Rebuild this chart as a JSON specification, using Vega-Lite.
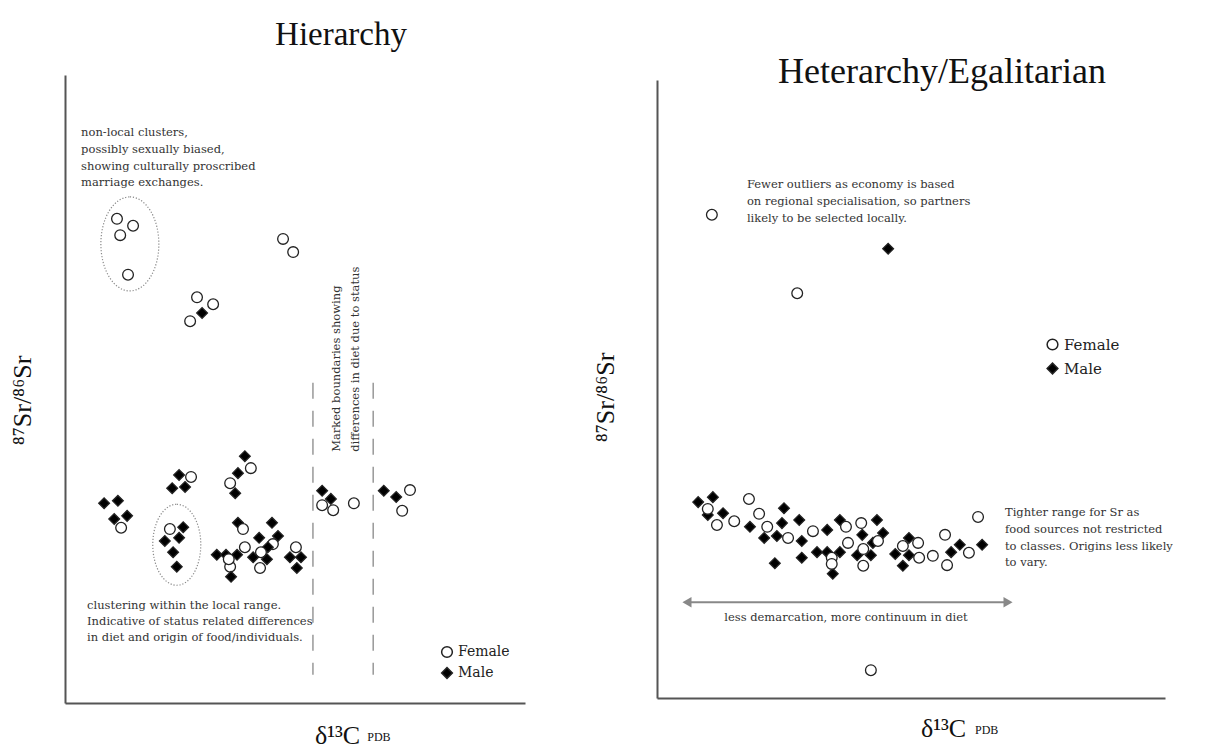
{
  "$schema": "https://vega.github.io/schema/vega-lite/v6.json",
  "autosize": {"type": "pad"},
  "padding": {"left": 9, "top": 19, "right": 0, "bottom": 0},
  "background": "white",
  "bounds": "flush",
  "center": true,
  "spacing": 132,
  "config": {
    "view": {"stroke": null},
    "axis": {"ticks": false, "labels": false, "grid": false, "domainColor": "#555", "domainWidth": 2, "titleFont": "Liberation Serif", "titleFontWeight": "normal", "titleColor": "#111"},
    "text": {"font": "DejaVu Serif", "fontSize": 11.5, "color": "#333"}
  },
  "datasets": {
    "h_pts": [
      {"x": 11.3, "y": 77.1, "sex": "Female"}, {"x": 14.8, "y": 76.0, "sex": "Female"}, {"x": 12.0, "y": 74.5, "sex": "Female"}, {"x": 13.7, "y": 68.2, "sex": "Female"},
      {"x": 47.4, "y": 73.9, "sex": "Female"}, {"x": 49.6, "y": 71.8, "sex": "Female"},
      {"x": 28.7, "y": 64.6, "sex": "Female"}, {"x": 32.2, "y": 63.5, "sex": "Female"}, {"x": 27.2, "y": 60.8, "sex": "Female"}, {"x": 29.8, "y": 62.1, "sex": "Male"},
      {"x": 8.5, "y": 31.8, "sex": "Male"}, {"x": 11.5, "y": 32.2, "sex": "Male"}, {"x": 10.7, "y": 29.3, "sex": "Male"}, {"x": 13.5, "y": 29.8, "sex": "Male"}, {"x": 12.2, "y": 27.9, "sex": "Female"},
      {"x": 24.8, "y": 36.3, "sex": "Male"}, {"x": 27.4, "y": 36.0, "sex": "Female"}, {"x": 23.3, "y": 34.2, "sex": "Male"}, {"x": 26.1, "y": 34.4, "sex": "Male"},
      {"x": 22.8, "y": 27.7, "sex": "Female"}, {"x": 25.7, "y": 28.0, "sex": "Male"}, {"x": 21.7, "y": 25.8, "sex": "Male"}, {"x": 24.8, "y": 26.3, "sex": "Male"}, {"x": 23.5, "y": 24.0, "sex": "Male"}, {"x": 24.3, "y": 21.7, "sex": "Male"},
      {"x": 39.1, "y": 39.3, "sex": "Male"}, {"x": 40.4, "y": 37.4, "sex": "Female"}, {"x": 37.6, "y": 36.6, "sex": "Male"}, {"x": 35.9, "y": 35.0, "sex": "Female"}, {"x": 37.0, "y": 33.4, "sex": "Male"},
      {"x": 37.6, "y": 28.7, "sex": "Male"}, {"x": 38.7, "y": 27.7, "sex": "Female"}, {"x": 45.0, "y": 28.7, "sex": "Male"}, {"x": 46.3, "y": 26.6, "sex": "Male"}, {"x": 42.2, "y": 26.3, "sex": "Male"},
      {"x": 45.2, "y": 25.3, "sex": "Female"}, {"x": 39.1, "y": 24.8, "sex": "Female"}, {"x": 44.1, "y": 24.8, "sex": "Male"}, {"x": 42.6, "y": 24.0, "sex": "Female"},
      {"x": 33.0, "y": 23.6, "sex": "Male"}, {"x": 35.0, "y": 23.6, "sex": "Male"}, {"x": 37.4, "y": 23.6, "sex": "Male"}, {"x": 40.9, "y": 23.2, "sex": "Male"}, {"x": 43.9, "y": 22.9, "sex": "Male"},
      {"x": 35.9, "y": 21.7, "sex": "Female"}, {"x": 35.6, "y": 22.9, "sex": "Female"}, {"x": 42.4, "y": 21.5, "sex": "Female"}, {"x": 36.1, "y": 20.1, "sex": "Male"},
      {"x": 50.2, "y": 24.8, "sex": "Female"}, {"x": 48.9, "y": 23.2, "sex": "Male"}, {"x": 51.3, "y": 23.2, "sex": "Male"}, {"x": 50.4, "y": 21.5, "sex": "Male"},
      {"x": 55.9, "y": 33.8, "sex": "Male"}, {"x": 57.8, "y": 32.5, "sex": "Male"}, {"x": 55.9, "y": 31.5, "sex": "Female"}, {"x": 58.3, "y": 30.7, "sex": "Female"}, {"x": 62.8, "y": 31.8, "sex": "Female"},
      {"x": 69.3, "y": 33.8, "sex": "Male"}, {"x": 72.0, "y": 32.8, "sex": "Male"}, {"x": 75.0, "y": 33.9, "sex": "Female"}, {"x": 73.3, "y": 30.6, "sex": "Female"}
    ],
    "h_text": [
      {"x": 3.5, "y": 90.8, "label": "non-local clusters,"},
      {"x": 3.5, "y": 88.1, "label": "possibly sexually biased,"},
      {"x": 3.5, "y": 85.4, "label": "showing culturally proscribed"},
      {"x": 3.5, "y": 82.8, "label": "marriage exchanges."},
      {"x": 4.8, "y": 15.4, "label": "clustering within the local range."},
      {"x": 4.8, "y": 12.9, "label": "Indicative of status related differences"},
      {"x": 4.8, "y": 10.4, "label": "in diet and origin of food/individuals."}
    ],
    "h_rot": [
      {"x": 59.1, "y": 40.0, "label": "Marked boundaries showing"},
      {"x": 63.3, "y": 40.0, "label": "differences in diet due to status"}
    ],
    "h_dash": [{"x": 53.9, "y": 51.0, "y2": 4.5}, {"x": 67.0, "y": 51.0, "y2": 4.5}],
    "h_ell1": [{"x": 14.1, "y": 73.1}],
    "h_ell2": [{"x": 24.3, "y": 25.2}],
    "h_pdb": [{"x": 65.7, "y": -5.4, "label": "PDB"}],
    "e_pts": [
      {"x": 10.8, "y": 78.2, "sex": "Female"}, {"x": 27.6, "y": 65.5, "sex": "Female"}, {"x": 45.5, "y": 72.7, "sex": "Male"}, {"x": 42.1, "y": 4.5, "sex": "Female"},
      {"x": 8.1, "y": 31.7, "sex": "Male"}, {"x": 11.0, "y": 32.5, "sex": "Male"}, {"x": 10.0, "y": 29.6, "sex": "Male"}, {"x": 13.0, "y": 29.9, "sex": "Male"},
      {"x": 18.3, "y": 27.7, "sex": "Male"}, {"x": 21.1, "y": 25.9, "sex": "Male"}, {"x": 23.6, "y": 26.2, "sex": "Male"}, {"x": 25.0, "y": 30.7, "sex": "Male"},
      {"x": 24.6, "y": 28.3, "sex": "Male"}, {"x": 28.0, "y": 28.8, "sex": "Male"}, {"x": 28.5, "y": 25.4, "sex": "Male"}, {"x": 23.2, "y": 21.8, "sex": "Male"},
      {"x": 28.5, "y": 22.7, "sex": "Male"}, {"x": 33.5, "y": 27.2, "sex": "Male"}, {"x": 31.5, "y": 23.6, "sex": "Male"}, {"x": 33.5, "y": 23.6, "sex": "Male"},
      {"x": 36.0, "y": 23.6, "sex": "Male"}, {"x": 34.6, "y": 20.1, "sex": "Male"}, {"x": 36.0, "y": 28.8, "sex": "Male"}, {"x": 40.4, "y": 26.4, "sex": "Male"},
      {"x": 39.4, "y": 23.1, "sex": "Male"}, {"x": 42.1, "y": 23.1, "sex": "Male"}, {"x": 42.5, "y": 25.1, "sex": "Male"}, {"x": 43.3, "y": 28.8, "sex": "Male"},
      {"x": 44.5, "y": 26.7, "sex": "Male"}, {"x": 46.9, "y": 23.3, "sex": "Male"}, {"x": 49.6, "y": 25.9, "sex": "Male"}, {"x": 49.6, "y": 23.1, "sex": "Male"},
      {"x": 48.4, "y": 21.4, "sex": "Male"}, {"x": 57.9, "y": 23.6, "sex": "Male"}, {"x": 59.6, "y": 24.8, "sex": "Male"}, {"x": 64.0, "y": 24.8, "sex": "Male"},
      {"x": 10.0, "y": 30.6, "sex": "Female"}, {"x": 11.8, "y": 28.0, "sex": "Female"}, {"x": 15.2, "y": 28.6, "sex": "Female"}, {"x": 18.1, "y": 32.2, "sex": "Female"},
      {"x": 20.1, "y": 29.8, "sex": "Female"}, {"x": 21.7, "y": 27.7, "sex": "Female"}, {"x": 25.8, "y": 25.9, "sex": "Female"}, {"x": 30.7, "y": 27.0, "sex": "Female"},
      {"x": 37.2, "y": 27.7, "sex": "Female"}, {"x": 40.2, "y": 28.3, "sex": "Female"}, {"x": 37.6, "y": 25.1, "sex": "Female"}, {"x": 34.4, "y": 22.7, "sex": "Female"},
      {"x": 34.4, "y": 21.7, "sex": "Female"}, {"x": 40.6, "y": 24.1, "sex": "Female"}, {"x": 40.6, "y": 21.4, "sex": "Female"}, {"x": 43.5, "y": 25.4, "sex": "Female"},
      {"x": 48.4, "y": 24.6, "sex": "Female"}, {"x": 51.4, "y": 25.1, "sex": "Female"}, {"x": 51.6, "y": 22.7, "sex": "Female"}, {"x": 54.3, "y": 23.0, "sex": "Female"},
      {"x": 56.7, "y": 26.4, "sex": "Female"}, {"x": 57.1, "y": 21.5, "sex": "Female"}, {"x": 61.4, "y": 23.5, "sex": "Female"}, {"x": 63.2, "y": 29.3, "sex": "Female"}
    ],
    "e_text": [
      {"x": 17.7, "y": 83.0, "label": "Fewer outliers as economy is based"},
      {"x": 17.7, "y": 80.3, "label": "on regional specialisation, so partners"},
      {"x": 17.7, "y": 77.5, "label": "likely to be selected locally."},
      {"x": 68.5, "y": 29.9, "label": "Tighter range for Sr as"},
      {"x": 68.5, "y": 27.2, "label": "food sources not restricted"},
      {"x": 68.5, "y": 24.4, "label": "to classes. Origins less likely"},
      {"x": 68.5, "y": 21.8, "label": "to vary."}
    ],
    "e_center": [{"x": 37.2, "y": 12.9, "label": "less demarcation, more continuum in diet"}],
    "e_arrow": [{"x": 5.9, "x2": 69.1, "y": 15.5}],
    "e_headL": [{"x": 5.9, "y": 15.5}],
    "e_headR": [{"x": 69.1, "y": 15.5}],
    "e_pdb": [{"x": 62.6, "y": -5.2, "label": "PDB"}]
  },
  "resolve": {
    "scale": {"shape": "independent", "fill": "independent"},
    "legend": {"shape": "independent", "fill": "independent"}
  },
  "hconcat": [
    {
      "width": 460,
      "height": 628,
      "title": {"text": "Hierarchy", "font": "Liberation Serif", "fontSize": 33, "fontWeight": "normal", "color": "#111", "anchor": "middle", "dx": 46, "offset": -3, "baseline": "alphabetic"},
      "encoding": {
        "x": {"field": "x", "type": "quantitative", "scale": {"domain": [0, 100], "nice": false, "zero": false},
          "axis": {"title": "δ¹³C", "titleFontSize": 26, "titleX": 272, "titleY": 32, "titleAlign": "center", "titleBaseline": "middle"}},
        "y": {"field": "y", "type": "quantitative", "scale": {"domain": [0, 100], "nice": false, "zero": false},
          "axis": {"title": "⁸⁷Sr/⁸⁶Sr", "titleFontSize": 26, "titleAngle": 270, "titleX": -43, "titleY": 325, "titleAlign": "center", "titleBaseline": "middle"}}
      },
      "layer": [
        {"data": {"name": "h_ell1"}, "mark": {"type": "point", "shape": "M0,-1A0.617,1,0,1,1,0,1A0.617,1,0,1,1,0,-1Z", "size": 8836, "filled": false, "stroke": "#888", "strokeWidth": 1.2, "strokeDash": [1.2, 1.8], "opacity": 1}},
        {"data": {"name": "h_ell2"}, "mark": {"type": "point", "shape": "M0,-1A0.593,1,0,1,1,0,1A0.593,1,0,1,1,0,-1Z", "size": 6561, "filled": false, "stroke": "#888", "strokeWidth": 1.2, "strokeDash": [1.2, 1.8], "opacity": 1}},
        {"data": {"name": "h_dash"}, "mark": {"type": "rule", "stroke": "#999", "strokeWidth": 1.5, "strokeDash": [16, 12]}, "encoding": {"y2": {"field": "y2"}}},
        {"data": {"name": "h_pts"}, "mark": {"type": "point", "filled": true, "stroke": "#222", "strokeWidth": 1.3, "size": 115, "opacity": 1},
          "encoding": {
            "shape": {"field": "sex", "type": "nominal", "scale": {"domain": ["Female", "Male"], "range": ["circle", "diamond"]},
              "legend": {"title": null, "orient": "none", "legendX": 375, "legendY": 570, "labelFont": "DejaVu Serif", "labelFontSize": 14, "labelColor": "#222", "symbolSize": 115, "rowPadding": 3, "labelOffset": 4,
                "encode": {"symbols": {"update": {"stroke": {"value": "#222"}, "strokeWidth": {"value": 1.3}}}}}},
            "fill": {"field": "sex", "type": "nominal", "scale": {"domain": ["Female", "Male"], "range": ["white", "black"]},
              "legend": {"title": null, "orient": "none", "legendX": 375, "legendY": 570, "labelFont": "DejaVu Serif", "labelFontSize": 14, "labelColor": "#222", "symbolSize": 115, "rowPadding": 3, "labelOffset": 4,
                "encode": {"symbols": {"update": {"stroke": {"value": "#222"}, "strokeWidth": {"value": 1.3}}}}}}
          }},
        {"data": {"name": "h_text"}, "mark": {"type": "text", "align": "left", "baseline": "middle"}, "encoding": {"text": {"field": "label"}}},
        {"data": {"name": "h_rot"}, "mark": {"type": "text", "align": "left", "baseline": "middle", "angle": 270}, "encoding": {"text": {"field": "label"}}},
        {"data": {"name": "h_pdb"}, "mark": {"type": "text", "align": "left", "baseline": "middle", "font": "Liberation Serif", "fontSize": 12, "color": "#111"}, "encoding": {"text": {"field": "label"}}}
      ]
    },
    {
      "width": 508,
      "height": 618,
      "title": {"text": "Heterarchy/Egalitarian", "font": "Liberation Serif", "fontSize": 36, "fontWeight": "normal", "color": "#111", "anchor": "middle", "dx": 31, "offset": 0, "dy": 39, "baseline": "alphabetic"},
      "encoding": {
        "x": {"field": "x", "type": "quantitative", "scale": {"domain": [0, 100], "nice": false, "zero": false},
          "axis": {"title": "δ¹³C", "titleFontSize": 26, "titleX": 286, "titleY": 30, "titleAlign": "center", "titleBaseline": "middle"}},
        "y": {"field": "y", "type": "quantitative", "scale": {"domain": [0, 100], "nice": false, "zero": false},
          "axis": {"title": "⁸⁷Sr/⁸⁶Sr", "titleFontSize": 26, "titleAngle": 270, "titleX": -52, "titleY": 317, "titleAlign": "center", "titleBaseline": "middle"}}
      },
      "layer": [
        {"data": {"name": "e_arrow"}, "mark": {"type": "rule", "stroke": "#888", "strokeWidth": 2}, "encoding": {"x2": {"field": "x2"}}},
        {"data": {"name": "e_headL"}, "mark": {"type": "point", "shape": "triangle-left", "filled": true, "color": "#888", "size": 110, "opacity": 1}},
        {"data": {"name": "e_headR"}, "mark": {"type": "point", "shape": "triangle-right", "filled": true, "color": "#888", "size": 110, "opacity": 1}},
        {"data": {"name": "e_pts"}, "mark": {"type": "point", "filled": true, "stroke": "#222", "strokeWidth": 1.3, "size": 115, "opacity": 1},
          "encoding": {
            "shape": {"field": "sex", "type": "nominal", "scale": {"domain": ["Female", "Male"], "range": ["circle", "diamond"]},
              "legend": {"title": null, "orient": "none", "legendX": 388, "legendY": 257, "labelFont": "DejaVu Serif", "labelFontSize": 15, "labelColor": "#222", "symbolSize": 115, "rowPadding": 7, "labelOffset": 4,
                "encode": {"symbols": {"update": {"stroke": {"value": "#222"}, "strokeWidth": {"value": 1.3}}}}}},
            "fill": {"field": "sex", "type": "nominal", "scale": {"domain": ["Female", "Male"], "range": ["white", "black"]},
              "legend": {"title": null, "orient": "none", "legendX": 388, "legendY": 257, "labelFont": "DejaVu Serif", "labelFontSize": 15, "labelColor": "#222", "symbolSize": 115, "rowPadding": 7, "labelOffset": 4,
                "encode": {"symbols": {"update": {"stroke": {"value": "#222"}, "strokeWidth": {"value": 1.3}}}}}}
          }},
        {"data": {"name": "e_text"}, "mark": {"type": "text", "align": "left", "baseline": "middle"}, "encoding": {"text": {"field": "label"}}},
        {"data": {"name": "e_center"}, "mark": {"type": "text", "align": "center", "baseline": "middle"}, "encoding": {"text": {"field": "label"}}},
        {"data": {"name": "e_pdb"}, "mark": {"type": "text", "align": "left", "baseline": "middle", "font": "Liberation Serif", "fontSize": 12, "color": "#111"}, "encoding": {"text": {"field": "label"}}}
      ]
    }
  ]
}
